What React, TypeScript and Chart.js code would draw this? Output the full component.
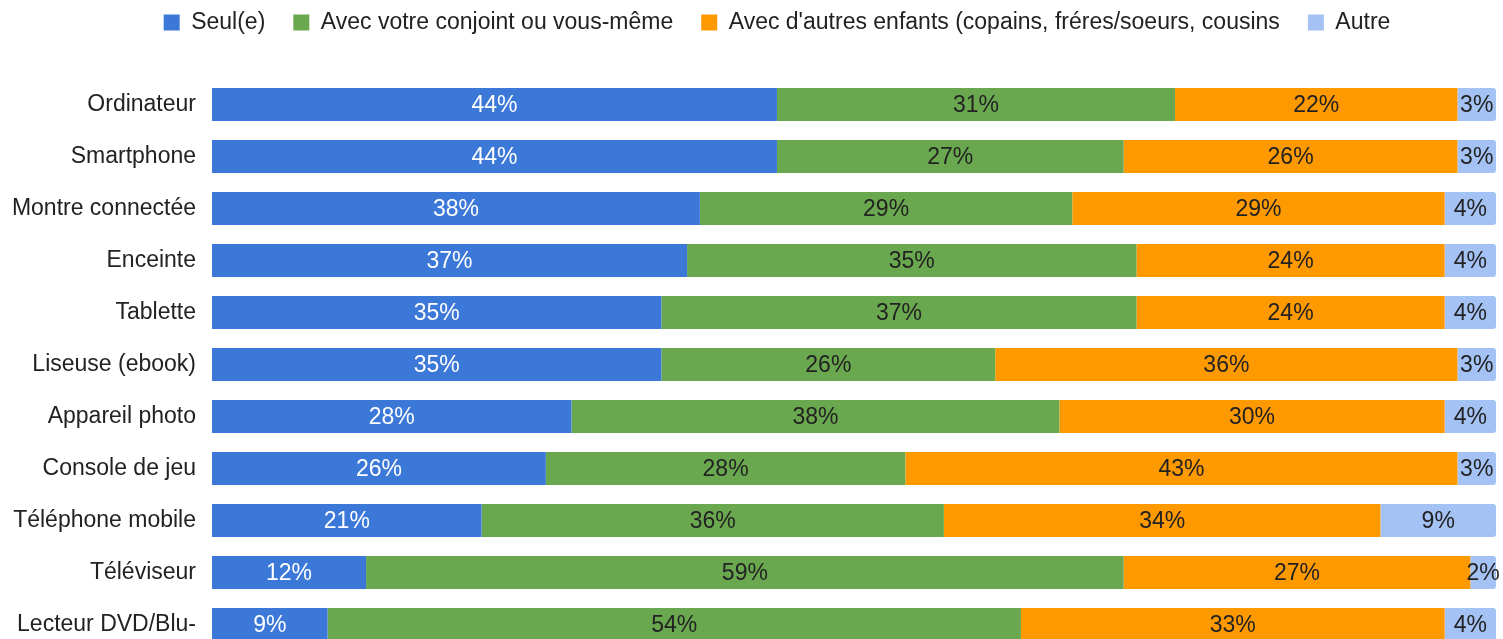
import React, { useEffect, useRef } from "react";
import { Chart, registerables } from "chart.js";

Chart.register(...registerables);

const categories = [
  "Ordinateur",
  "Smartphone",
  "Montre connectée",
  "Enceinte",
  "Tablette",
  "Liseuse (ebook)",
  "Appareil photo",
  "Console de jeu",
  "Téléphone mobile",
  "Téléviseur",
  "Lecteur DVD/Blu-",
];

const seriesNames = [
  "Seul(e)",
  "Avec votre conjoint ou vous-même",
  "Avec d'autres enfants (copains, fréres/soeurs, cousins",
  "Autre",
];

const seul = [44, 44, 38, 37, 35, 35, 28, 26, 21, 12, 9];
const conjoint = [31, 27, 29, 35, 37, 26, 38, 28, 36, 59, 54];
const enfants = [22, 26, 29, 24, 24, 36, 30, 43, 34, 27, 33];
const autre = [3, 3, 4, 4, 4, 3, 4, 3, 9, 2, 4];

const colors = ["#3c78d8", "#6aa84f", "#ff9900", "#a4c2f4"];
const labelColors = ["#ffffff", "#222222", "#222222", "#222222"];

const FONT = "'Liberation Sans', Arial, sans-serif";

const barLabels = {
  id: "barLabels",
  afterDatasetsDraw(chart: any) {
    const ctx = chart.ctx;
    ctx.save();
    ctx.font = `23px ${FONT}`;
    ctx.textAlign = "center";
    ctx.textBaseline = "middle";
    chart.data.datasets.forEach((ds: any, di: number) => {
      const meta = chart.getDatasetMeta(di);
      meta.data.forEach((el: any, i: number) => {
        const v = ds.data[i];
        const cx = (el.x + el.base) / 2;
        ctx.fillStyle = labelColors[di];
        ctx.fillText(`${v}%`, cx, el.y + 1);
      });
    });
    ctx.restore();
  },
};

const legendLayout = {
  id: "legendLayout",
  beforeLayout(chart: any) {
    const lg = chart.legend;
    if (lg && !lg.__patched) {
      const orig = lg.fit;
      lg.fit = function () {
        orig.call(this);
        this.height = 78.5;
      };
      lg.__patched = true;
    }
  },
  afterLayout(chart: any) {
    const lg = chart.legend;
    if (lg) {
      lg.top -= 17;
      lg.bottom -= 17;
      lg.left += 29;
      lg.right += 29;
    }
  },
};

export default function App() {
  const ref = useRef<HTMLCanvasElement>(null);
  useEffect(() => {
    if (!ref.current) return;
    const values = [seul, conjoint, enfants, autre];
    const chart = new Chart(ref.current, {
      type: "bar",
      data: {
        labels: categories,
        datasets: seriesNames.map((name, i) => ({
          label: name,
          data: values[i],
          backgroundColor: colors[i],
          borderWidth: 0,
          borderRadius: i === 3 ? 3 : 0,
          categoryPercentage: 1,
          barPercentage: 0.635,
        })),
      },
      options: {
        indexAxis: "y",
        responsive: false,
        animation: false,
        devicePixelRatio: 1,
        layout: { padding: { left: 0, right: 7, top: 0, bottom: 9.5 } },
        scales: {
          x: {
            stacked: true,
            min: 0,
            max: 100,
            display: false,
          },
          y: {
            stacked: true,
            grid: { display: false, drawTicks: false },
            border: { display: false },
            ticks: {
              autoSkip: false,
              padding: 16,
              color: "#222222",
              font: { size: 23, family: FONT },
            },
            afterFit(axis: any) {
              axis.width = 212;
              axis.paddingTop = 0;
              axis.paddingBottom = 0;
            },
          },
        },
        plugins: {
          legend: {
            position: "top",
            labels: {
              boxWidth: 16,
              boxHeight: 16,
              padding: 28,
              color: "#222222",
              font: { size: 23, family: FONT },
            },
          },
          tooltip: { enabled: false },
        },
      },
      plugins: [barLabels, legendLayout],
    } as any);
    return () => chart.destroy();
  }, []);
  return (
    <div
      style={{
        position: "fixed",
        left: 0,
        top: 0,
        width: 1503,
        height: 639,
        overflow: "hidden",
        background: "#ffffff",
      }}
    >
      <canvas
        ref={ref}
        width={1503}
        height={660}
        style={{ display: "block", width: 1503, height: 660 }}
      />
    </div>
  );
}
